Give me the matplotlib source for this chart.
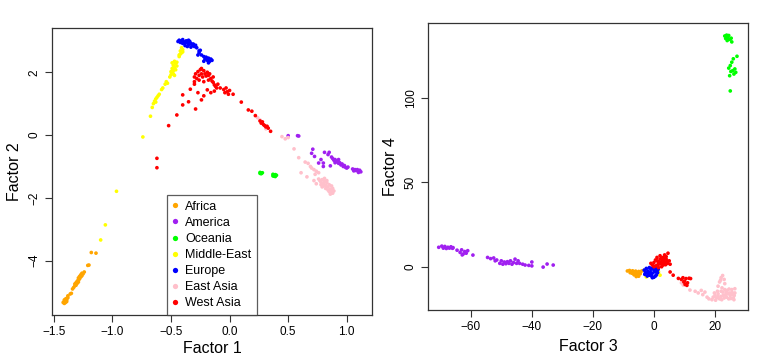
import matplotlib
matplotlib.use("Agg")
import matplotlib.pyplot as plt
from matplotlib.lines import Line2D

plt.rcParams['font.family'] = ['Liberation Sans', 'DejaVu Sans']

groups = ["Africa", "America", "Oceania", "Middle-East", "Europe", "East Asia", "West Asia"]
colors = ["#FFA500", "#A020F0", "#00FF00", "#FFFF00", "#0000FF", "#FFC0CB", "#FF0000"]

# ---------------- Panel 1: Factor 1 vs Factor 2 ----------------
africa_f12 = [(-1.41,-5.36),(-1.40,-5.33),(-1.41,-5.30),(-1.40,-5.27),(-1.39,-5.30),(-1.40,-5.22),(-1.39,-5.20),
              (-1.38,-5.18),(-1.41,-5.25),(-1.42,-5.33),(-1.39,-5.25),(-1.38,-5.12),(-1.36,-5.06),(-1.35,-5.04),
              (-1.34,-4.90),(-1.33,-4.85),(-1.32,-4.80),(-1.32,-4.74),(-1.31,-4.70),(-1.30,-4.72),(-1.30,-4.65),
              (-1.29,-4.62),(-1.29,-4.55),(-1.28,-4.58),(-1.28,-4.50),(-1.27,-4.52),(-1.27,-4.45),(-1.26,-4.48),
              (-1.26,-4.40),(-1.25,-4.42),(-1.24,-4.36),(-1.31,-4.78),(-1.29,-4.68),(-1.21,-4.15),(-1.20,-4.14),
              (-1.18,-3.74),(-1.14,-3.76)]
america_f12 = [(0.50,-0.02),(0.58,-0.02),(0.59,-0.03),(0.71,-0.45),(0.70,-0.58),(0.725,-0.68),(0.81,-0.55),
               (0.85,-0.55),(0.84,-0.62),(0.76,-0.89),(0.80,-0.89),(0.80,-1.0),(0.86,-0.98),(0.78,-0.78),
               (0.87,-0.70),(0.88,-0.75),(0.89,-0.80),(0.90,-0.78),(0.91,-0.85),(0.92,-0.82),(0.93,-0.90),
               (0.94,-0.88),(0.95,-0.95),(0.96,-0.92),(0.97,-1.0),(0.98,-0.97),(0.99,-1.03),(1.00,-1.05),
               (1.01,-1.02),(0.90,-0.88),(0.93,-0.78),(1.05,-1.08),(1.07,-1.10),(1.08,-1.13),(1.09,-1.10),
               (1.10,-1.15),(1.11,-1.12),(1.12,-1.17),(1.10,-1.19),(1.06,-1.14)]
oceania_f12 = [(0.26,-1.19),(0.27,-1.21),(0.28,-1.20),(0.27,-1.23),(0.26,-1.22),(0.37,-1.25),(0.38,-1.28),
               (0.39,-1.26),(0.38,-1.31),(0.37,-1.30),(0.39,-1.32),(0.40,-1.28)]
mideast_f12 = [(-1.10,-3.34),(-1.06,-2.86),(-0.965,-1.79),(-0.74,-0.06),(-0.675,0.6),(-0.66,0.88),(-0.65,1.0),
               (-0.64,1.08),(-0.63,1.15),(-0.62,1.2),(-0.61,1.25),(-0.63,1.05),(-0.60,1.3),(-0.58,1.45),
               (-0.57,1.5),(-0.55,1.62),(-0.54,1.7),(-0.53,1.65),(-0.51,1.85),(-0.50,1.92),(-0.49,2.0),
               (-0.48,2.05),(-0.49,2.12),(-0.47,2.15),(-0.48,2.22),(-0.46,2.28),(-0.47,2.35),(-0.45,2.2),
               (-0.46,2.08),(-0.50,2.02),(-0.48,1.95),(-0.45,2.32),(-0.49,2.3),(-0.47,1.9),(-0.43,2.5),
               (-0.42,2.58),(-0.41,2.62),(-0.42,2.68),(-0.40,2.72),(-0.41,2.78),(-0.43,2.55),(-0.40,2.65)]
europe_f12 = [(-0.44,2.98),(-0.43,3.02),(-0.42,2.95),(-0.41,3.0),(-0.40,3.04),(-0.39,2.97),(-0.38,2.92),
              (-0.37,3.0),(-0.36,2.95),(-0.35,2.88),(-0.34,2.98),(-0.33,2.92),(-0.32,2.85),(-0.31,2.9),
              (-0.30,2.82),(-0.29,2.86),(-0.35,3.02),(-0.38,2.85),(-0.33,2.8),(-0.28,2.78),(-0.40,2.92),
              (-0.36,2.82),(-0.26,2.62),(-0.24,2.55),(-0.22,2.5),(-0.21,2.42),(-0.20,2.48),(-0.19,2.38),
              (-0.18,2.45),(-0.17,2.35),(-0.16,2.42),(-0.15,2.38),(-0.22,2.35),(-0.18,2.3),(-0.25,2.7),
              (-0.27,2.55),(-0.26,2.68)]
eastasia_f12 = [(0.24,0.55),(0.26,0.48),(0.31,0.20),(0.447,-0.05),(0.475,-0.12),(0.50,-0.08),(0.55,-0.44),
                (0.59,-0.72),(0.645,-0.86),(0.67,-0.9),(0.69,-1.0),(0.61,-1.2),(0.66,-1.33),(0.70,-1.05),
                (0.72,-1.10),(0.74,-1.15),(0.76,-1.2),(0.73,-1.25),(0.76,-1.40),(0.77,-1.45),(0.78,-1.50),
                (0.79,-1.42),(0.80,-1.55),(0.81,-1.48),(0.82,-1.60),(0.83,-1.52),(0.84,-1.65),(0.85,-1.58),
                (0.86,-1.72),(0.87,-1.80),(0.88,-1.85),(0.86,-1.88),(0.84,-1.75),(0.82,-1.70),(0.80,-1.62),
                (0.78,-1.58),(0.88,-1.70),(0.85,-1.80),(0.83,-1.45),(0.87,-1.62),(0.89,-1.78),(0.81,-1.38),
                (0.79,-1.65),(0.74,-1.55),(0.72,-1.45)]
westasia_f12 = [(-0.30,1.85),(-0.29,1.95),(-0.28,1.8),(-0.27,2.02),(-0.26,1.9),(-0.25,2.08),(-0.24,1.95),
                (-0.23,1.85),(-0.22,2.05),(-0.21,1.95),(-0.20,1.88),(-0.19,2.0),(-0.18,1.9),(-0.17,1.95),
                (-0.16,1.8),(-0.15,1.72),(-0.14,1.68),(-0.13,1.6),(-0.12,1.55),(-0.11,1.5),(-0.26,1.75),
                (-0.22,1.7),(-0.30,1.7),(-0.24,2.12),(-0.18,1.75),(-0.14,1.85),(-0.10,1.62),(-0.08,1.5),
                (-0.05,1.45),(-0.03,1.5),(-0.02,1.38),(-0.01,1.3),(0.0,1.42),(-0.04,1.35),(0.03,1.3),
                (-0.52,0.30),(-0.45,0.64),(-0.40,1.28),(-0.35,1.06),(-0.29,0.83),(-0.40,0.96),(-0.24,1.12),
                (-0.19,1.44),(-0.335,1.46),(-0.30,1.62),(-0.27,1.35),(-0.22,1.25),(-0.16,1.35),(-0.13,1.4),
                (-0.62,-0.74),(-0.62,-1.04),(0.10,1.05),(0.16,0.8),(0.19,0.76),(0.22,0.62),(0.26,0.45),
                (0.27,0.38),(0.28,0.42),(0.29,0.33),(0.30,0.3),(0.31,0.26),(0.32,0.28),(0.33,0.22),(0.35,0.12)]

# ---------------- Panel 2: Factor 3 vs Factor 4 ----------------
africa_f34 = [(-8.7,-2.5),(-8.0,-2.2),(-7.5,-3.0),(-7.0,-2.4),(-6.5,-3.2),(-6.0,-2.6),(-5.5,-3.5),(-5.0,-2.8),
              (-4.5,-3.3),(-4.0,-2.5),(-6.8,-4.0),(-6.0,-4.5),(-5.5,-5.0),(-5.0,-5.6),(-5.8,-5.8),(-6.5,-4.8),
              (-7.8,-3.5),(-4.5,-4.2),(-5.2,-4.0),(-7.2,-3.8)]
america_f34 = [(-70.5,11.5),(-69.5,12.2),(-69.0,11.0),(-68.5,12.0),(-68.0,10.8),(-67.5,11.5),(-67.0,11.0),
               (-66.5,11.8),(-66.0,10.9),(-65.8,11.3),(-64.5,9.8),(-63.5,8.5),(-63.0,10.0),(-62.5,7.5),
               (-62.0,9.0),(-61.5,8.0),(-61.0,9.5),(-62.8,7.0),(-59.3,6.9),(-54.5,5.5),(-53.5,4.8),(-52.5,5.2),
               (-52.0,3.5),(-51.5,4.0),(-50.5,2.0),(-50.0,3.5),(-49.5,1.5),(-49.0,2.8),(-48.5,1.8),(-48.0,3.0),
               (-47.5,2.0),(-47.0,3.5),(-46.5,1.5),(-46.0,2.5),(-45.5,4.5),(-45.0,2.0),(-44.5,3.5),(-44.0,2.0),
               (-43.0,1.5),(-42.2,1.0),(-41.0,0.8),(-40.0,2.8),(-40.0,0.5),(-36.3,-0.2),(-35.0,1.6),(-33.0,1.0)]
oceania_f34 = [(23.2,136.5),(23.8,137.0),(24.2,135.5),(24.5,136.8),(24.8,134.5),(25.3,135.2),(23.5,135.0),
               (24.0,133.8),(25.5,133.0),(24.5,117.5),(25.0,119.0),(25.5,121.0),(26.0,123.0),(25.8,116.0),
               (26.2,114.0),(25.2,115.5),(26.5,117.0),(27.2,124.5),(24.8,113.0),(26.8,115.0),(25.0,104.0)]
mideast_f34 = [(-3.2,-2.0),(1.5,-3.0),(2.0,-5.0),(-2.5,-6.0)]
europe_f34 = [(-3.2,-2.0),(-2.5,-1.0),(-2.0,-2.5),(-1.5,-0.5),(-1.0,-1.5),(-0.5,-0.8),(0.0,-2.0),(0.5,-1.0),
              (1.0,-2.2),(-2.8,-3.5),(-2.0,-4.0),(-1.2,-3.2),(-0.5,-3.8),(0.3,-3.0),(1.2,-3.5),(-1.5,-5.0),
              (-0.8,-5.5),(0.0,-6.2),(-0.5,-6.5),(0.8,-4.8),(-2.2,-5.5),(-1.0,-4.5),(0.5,-5.5),(1.4,-1.5),
              (-3.0,-4.5)]
eastasia_f34 = [(9.0,-9.5),(9.6,-10.8),(11.8,-13.8),(13.5,-14.5),(14.5,-15.5),(15.5,-14.0),(16.0,-16.5),
                (16.7,-15.0),(17.4,-18.0),(18.0,-19.0),(19.0,-19.5),(19.4,-18.0),(20.0,-17.0),(20.5,-18.5),
                (21.0,-16.0),(21.5,-19.0),(22.0,-17.5),(22.5,-15.0),(23.0,-18.5),(23.5,-16.5),(24.0,-14.0),
                (24.5,-19.0),(25.0,-17.0),(25.5,-13.5),(26.0,-18.5),(26.5,-15.5),(26.2,-19.5),(24.8,-15.5),
                (23.2,-13.5),(25.8,-16.5),(22.2,-19.5),(21.0,-17.5),(20.2,-19.8),(26.5,-13.0),(21.0,-11.5),
                (21.5,-9.0),(22.0,-6.5),(22.5,-5.2),(23.0,-7.5),(23.2,-10.0),(22.3,-12.5),(21.8,-8.0),
                (20.8,-14.5),(22.8,-16.8),(23.8,-18.0),(24.2,-16.0),(25.2,-18.8),(25.6,-15.2),(26.3,-17.0),
                (24.6,-13.2),(23.6,-15.0),(22.0,-14.5),(19.8,-15.5)]
westasia_f34 = [(-0.5,1.0),(0.0,2.5),(0.5,0.5),(1.0,3.5),(1.5,1.5),(2.0,4.5),(2.5,2.5),(3.0,5.5),(3.5,3.0),
                (4.0,4.5),(4.5,2.0),(5.0,3.5),(1.0,5.5),(2.0,6.5),(3.0,1.0),(1.5,-0.5),(0.5,4.0),(-1.0,2.0),
                (4.0,6.0),(2.5,0.0),(3.5,7.0),(4.6,8.0),(5.3,1.5),(0.0,0.0),(2.8,4.0),(1.8,2.8),
                (1.2,1.0),(2.2,1.8),(3.2,2.2),(3.8,1.2),(1.5,3.0),(2.5,5.2),(3.6,5.0),(4.4,3.2),
                (5.3,-3.1),(6.3,-5.0),(8.0,-6.9),(9.0,-7.5),(9.5,-6.5),(10.0,-8.5),(10.5,-7.0),(11.0,-9.5),
                (11.5,-6.8),(10.2,-10.5),(9.8,-9.0),(12.0,-7.0),(10.8,-11.0)]

panel1 = [africa_f12, america_f12, oceania_f12, mideast_f12, europe_f12, eastasia_f12, westasia_f12]
panel2 = [africa_f34, america_f34, oceania_f34, mideast_f34, europe_f34, eastasia_f34, westasia_f34]

fig = plt.figure(figsize=(7.63, 3.62), dpi=100)
ax1 = fig.add_axes([0.0682, 0.1298, 0.4193, 0.7929])
ax2 = fig.add_axes([0.5610, 0.1436, 0.4193, 0.7920])

spine_col = "#333333"
for ax, data in ((ax1, panel1), (ax2, panel2)):
    for pts, col in zip(data, colors):
        xs = [p[0] for p in pts]
        ys = [p[1] for p in pts]
        ax.scatter(xs, ys, s=7, color=col, edgecolors='none', zorder=3)
    for sp in ax.spines.values():
        sp.set_color(spine_col)
        sp.set_linewidth(0.9)
    ax.tick_params(direction='out', length=5, width=0.8, color=spine_col, labelsize=8.5, pad=3)

ax1.set_xlim(-1.515, 1.215)
ax1.set_ylim(-5.73, 3.41)
ax1.set_xticks([-1.5, -1.0, -0.5, 0.0, 0.5, 1.0])
ax1.set_xticklabels(["\u22121.5", "\u22121.0", "\u22120.5", "0.0", "0.5", "1.0"])
ax1.set_yticks([-4, -2, 0, 2])
ax1.set_yticklabels(["\u22124", "\u22122", "0", "2"], rotation=90, va='center')
ax1.set_xlabel("Factor 1", fontsize=11.5, labelpad=2)
ax1.set_ylabel("Factor 2", fontsize=11.5, labelpad=5)

ax2.set_xlim(-74.0, 30.8)
ax2.set_ylim(-25.6, 144.0)
ax2.set_xticks([-60, -40, -20, 0, 20])
ax2.set_xticklabels(["\u221260", "\u221240", "\u221220", "0", "20"])
ax2.set_yticks([0, 50, 100])
ax2.set_yticklabels(["0", "50", "100"], rotation=90, va='center')
ax2.set_xlabel("Factor 3", fontsize=11.5, labelpad=4)
ax2.set_ylabel("Factor 4", fontsize=11.5, labelpad=5)

handles = [Line2D([], [], linestyle='none', marker='o', markersize=3.8,
                  markerfacecolor=c, markeredgecolor='none') for c in colors]
leg = ax1.legend(handles, groups, loc='lower left', bbox_to_anchor=(0.358, 0.0),
                 frameon=True, fancybox=False, fontsize=9.0, handlelength=0.5,
                 handletextpad=0.55, labelspacing=0.33, borderpad=0.45, borderaxespad=0.0)
leg.get_frame().set_edgecolor(spine_col)
leg.get_frame().set_linewidth(0.9)

fig.savefig("out.png", dpi=100)
